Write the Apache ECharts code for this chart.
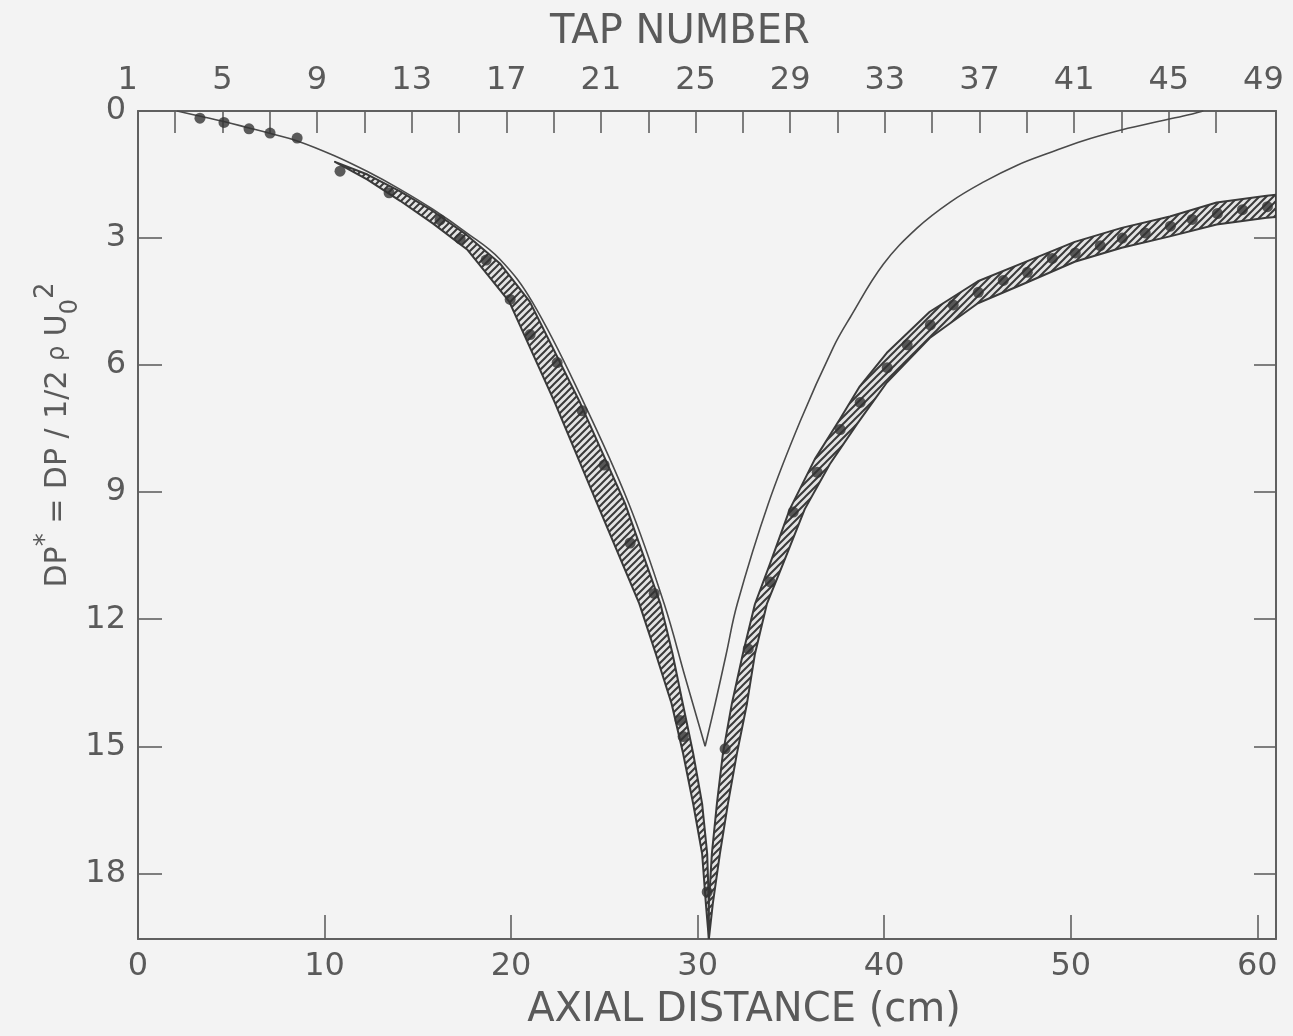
<!DOCTYPE html>
<html><head><meta charset="utf-8">
<script src="https://cdn.jsdelivr.net/npm/echarts@6/dist/echarts.min.js"></script>
<style>html,body{margin:0;padding:0;background:#f3f3f3}#c{width:1293px;height:1036px}</style>
</head><body><div id="c"></div>
<script>
// ---- axis ticks / labels ----
const xLabels = [0, 10, 20, 30, 40, 50, 60];
const xTickVals = [10, 20, 30, 40, 50, 60];
const yLabels = [0, 3, 6, 9, 12, 15, 18];
const yTickVals = [3, 6, 9, 12, 15, 18];
const tapLabels = [1, 5, 9, 13, 17, 21, 25, 29, 33, 37, 41, 45, 49];
const tapTickVals = [3,5,7,9,11,13,15,17,19,21,23,25,27,29,31,33,35,37,39,41,43,45,47];

// ---- thin (theory) curve, [cm, DP*] ----
const theoryLeft = [[2.1,0],[3.3,0.12],[4.6,0.25],[5.95,0.4],[7.1,0.53],[8.5,0.7],[10.5,1.05],[12.3,1.43],[14.05,1.85],[15.8,2.32],[17.6,2.87],[19.4,3.5],[21.15,4.52],[23.9,6.89],[26.3,9.26],[28.2,11.63],[29.35,13.4],[30.4,15.0]];
const theoryRight = [[30.4,15.0],[30.94,13.99],[31.53,12.82],[32.12,11.64],[33.78,9.28],[35.5,7.32],[37.27,5.58],[38.18,4.87],[39.95,3.62],[41.77,2.76],[43.54,2.15],[45.31,1.68],[47.13,1.28],[48.9,0.98],[50.67,0.70],[52.49,0.47],[54.26,0.29],[56.03,0.12],[57.1,0]];

// ---- hatched band edges ----
const bandLeftUpper = [[10.56,1.2],[12.3,1.5],[14.05,1.9],[15.8,2.36],[17.6,2.92],[19.4,3.6],[21.0,4.5],[23.7,6.89],[26.1,9.26],[28.0,11.63],[28.65,12.81],[29.2,13.99],[29.76,15.17],[30.24,16.36],[30.51,17.54],[30.6,18.72],[30.6,19.55]];
const bandLeftLower = [[10.56,1.2],[12.3,1.62],[14.05,2.12],[15.82,2.66],[17.64,3.27],[19.9,4.5],[22.35,6.89],[24.6,9.26],[26.87,11.63],[27.75,12.81],[28.6,13.99],[29.22,15.17],[29.76,16.36],[30.24,17.54],[30.44,18.72],[30.6,19.55]];
const bandRightUpper = [[30.6,19.55],[30.6,18.72],[30.76,17.54],[31.03,16.36],[31.35,15.18],[31.83,14.0],[32.42,12.82],[33.07,11.64],[33.87,10.7],[34.94,9.4],[36.28,8.22],[37.62,7.28],[38.69,6.5],[40.14,5.71],[42.44,4.74],[45.02,4.02],[47.64,3.55],[50.21,3.09],[52.73,2.76],[55.31,2.49],[57.82,2.16],[60.5,2.0],[61,1.98]];
const bandRightLower = [[30.6,19.55],[30.81,18.72],[31.19,17.54],[31.62,16.36],[32.1,15.18],[32.64,14.0],[33.07,12.82],[33.71,11.64],[34.57,10.7],[35.74,9.4],[37.08,8.34],[38.53,7.4],[40.14,6.41],[42.44,5.36],[45.02,4.54],[47.64,4.05],[50.21,3.56],[52.73,3.23],[55.31,2.96],[57.82,2.68],[60.5,2.52],[61,2.5]];

// ---- measured points ----
const pointsLeft = [[3.32,0.17],[4.61,0.27],[5.95,0.42],[7.08,0.52],[8.53,0.64],[10.83,1.42],[13.46,1.93],[16.19,2.57],[17.27,3.02],[18.66,3.52],[19.95,4.45],[21.02,5.28],[22.47,5.94],[23.81,7.08],[24.99,8.36],[26.38,10.2],[27.67,11.39],[29.06,14.39],[29.22,14.77],[30.51,18.44]];
const pointsRight = [[31.47,15.06],[32.71,12.7],[33.89,11.12],[35.12,9.47],[36.41,8.53],[37.64,7.52],[38.71,6.88],[40.16,6.06],[41.23,5.52],[42.47,5.05],[43.7,4.58],[45.04,4.28],[46.38,4.0],[47.67,3.81],[49.01,3.48],[50.24,3.35],[51.58,3.18],[52.76,3.0],[53.99,2.88],[55.34,2.72],[56.51,2.56],[57.86,2.42],[59.2,2.33],[60.54,2.26]];

// ---- styling ----
const FONT = 'DejaVu Sans';
const INK = '#5a5a5a';
const AX = '#606060';

function makeHatch() {
  const c = document.createElement('canvas');
  c.width = 7; c.height = 7;
  const g = c.getContext('2d');
  g.fillStyle = '#e4e4e4'; g.fillRect(0, 0, 7, 7);
  g.strokeStyle = '#3a3a3a'; g.lineWidth = 2;
  g.beginPath();
  g.moveTo(0, 7); g.lineTo(7, 0);
  g.moveTo(-2, 2); g.lineTo(2, -2);
  g.moveTo(5, 9); g.lineTo(9, 5);
  g.stroke();
  return c;
}
const hatchFill = { image: makeHatch(), repeat: 'repeat' };

function bandSeries(edgeA, edgeB) {
  return {
    type: 'custom', coordinateSystem: 'cartesian2d', xAxisIndex: 0, yAxisIndex: 0,
    silent: true, z: 2, clip: true,
    data: [edgeA[0]],
    renderItem: function (params, api) {
      const pts = edgeA.concat(edgeB.slice().reverse()).map(p => api.coord(p));
      return { type: 'polygon', shape: { points: pts },
        style: { fill: hatchFill, stroke: '#3a3a3a', lineWidth: 2, lineJoin: 'round' } };
    }
  };
}

const labelStyle = { color: INK, fontFamily: FONT, fontSize: 32 };
const lineStyle = { color: AX, width: 2 };
const tickLine = { color: AX, width: 1.6 };

const chart = echarts.init(document.getElementById('c'), null, { renderer: 'canvas' });
chart.setOption({
  animation: false,
  backgroundColor: '#f3f3f3',
  grid: [
    { left: 138, right: 17, top: 111, bottom: 97, outerBoundsMode: 'none' },
    { left: 127.7, right: 17, top: 111, bottom: 97, outerBoundsMode: 'none' }
  ],
  xAxis: [
    { gridIndex: 0, type: 'value', position: 'bottom', min: 0, max: 61,
      axisLine: { show: true, onZero: false, lineStyle }, splitLine: { show: false },
      axisTick: { show: true, inside: true, length: 24, customValues: xTickVals, lineStyle: tickLine },
      axisLabel: Object.assign({ customValues: xLabels, margin: 12 }, labelStyle),
      name: 'AXIAL DISTANCE (cm)', nameLocation: 'middle', nameGap: 52,
      nameTextStyle: { color: INK, fontFamily: FONT, fontSize: 40, padding: [0, 0, 0, 74] } },
    { gridIndex: 0, type: 'value', position: 'top', min: 0, max: 61,
      axisLine: { show: true, onZero: false, lineStyle }, axisTick: { show: false }, axisLabel: { show: false }, splitLine: { show: false } },
    { gridIndex: 1, type: 'value', position: 'top', min: 1, max: 49.53,
      axisLine: { show: false, onZero: false }, splitLine: { show: false },
      axisTick: { show: true, inside: true, length: 22, customValues: tapTickVals, lineStyle: tickLine },
      axisLabel: Object.assign({ customValues: tapLabels, margin: 14 }, labelStyle),
      name: 'TAP NUMBER', nameLocation: 'middle', nameGap: 58,
      nameTextStyle: { color: INK, fontFamily: FONT, fontSize: 40, padding: [0, 44, 0, 0] } }
  ],
  yAxis: [
    { gridIndex: 0, type: 'value', inverse: true, position: 'left', min: 0, max: 19.55,
      axisLine: { show: true, onZero: false, lineStyle }, splitLine: { show: false },
      axisTick: { show: true, inside: true, length: 24, customValues: yTickVals, lineStyle: tickLine },
      axisLabel: Object.assign({ customValues: yLabels, margin: 12 }, labelStyle) },
    { gridIndex: 0, type: 'value', inverse: true, position: 'right', min: 0, max: 19.55,
      axisLine: { show: true, onZero: false, lineStyle }, splitLine: { show: false },
      axisTick: { show: true, inside: true, length: 22, customValues: yTickVals, lineStyle: tickLine },
      axisLabel: { show: false } },
    { gridIndex: 1, type: 'value', show: false, min: 0, max: 1 }
  ],
  graphic: [{
    type: 'text', x: 58, y: 435, rotation: Math.PI / 2,
    style: {
      text: '{m|DP}{s|*}{m| = DP / 1/2 }{r|ρ}{m| U}{b|0}{s|2}',
      align: 'center', verticalAlign: 'middle', fill: INK,
      rich: {
        m: { fontFamily: FONT, fontSize: 30, lineHeight: 50, fill: INK, verticalAlign: 'middle' },
        r: { fontFamily: FONT, fontSize: 24, lineHeight: 50, fill: INK, verticalAlign: 'middle' },
        s: { fontFamily: FONT, fontSize: 26, lineHeight: 26, fill: INK, verticalAlign: 'top' },
        b: { fontFamily: FONT, fontSize: 24, lineHeight: 24, fill: INK, verticalAlign: 'bottom' }
      }
    }
  }],
  series: [
    bandSeries(bandLeftUpper, bandLeftLower),
    bandSeries(bandRightUpper, bandRightLower),
    { type: 'line', xAxisIndex: 0, yAxisIndex: 0, data: theoryLeft, smooth: 0.4,
      showSymbol: false, silent: true, z: 3, lineStyle: { color: '#4a4a4a', width: 1.6 } },
    { type: 'line', xAxisIndex: 0, yAxisIndex: 0, data: theoryRight, smooth: 0.4,
      showSymbol: false, silent: true, z: 3, lineStyle: { color: '#4a4a4a', width: 1.6 } },
    { type: 'scatter', xAxisIndex: 0, yAxisIndex: 0, data: pointsLeft, symbol: 'circle', symbolSize: 11,
      silent: true, z: 4, itemStyle: { color: '#333' } },
    { type: 'scatter', xAxisIndex: 0, yAxisIndex: 0, data: pointsRight, symbol: 'circle', symbolSize: 11,
      silent: true, z: 4, itemStyle: { color: '#333' } }
  ]
});
</script>
</body></html>
